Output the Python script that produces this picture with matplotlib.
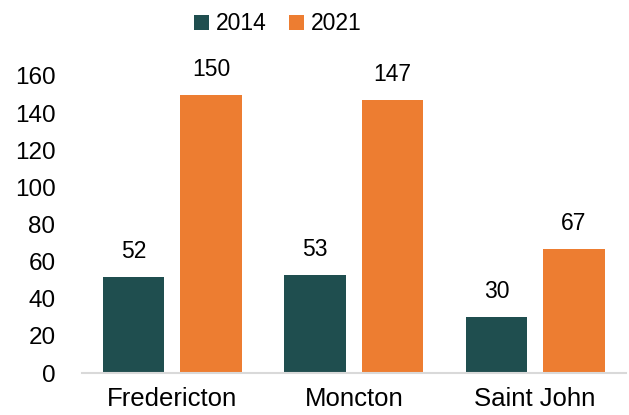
import numpy as np
import matplotlib.pyplot as plt

plt.rcParams['font.family'] = ['Liberation Sans', 'DejaVu Sans']

cities = ['Fredericton', 'Moncton', 'Saint John']
series_names = ['2014', '2021']
vals_2014 = [52, 53, 30]
vals_2021 = [150, 147, 67]
yticks = [0, 20, 40, 60, 80, 100, 120, 140, 160]

c2014 = '#1F4E4F'
c2021 = '#ED7D31'

fig = plt.figure(figsize=(6.29, 4.15), dpi=100)
ax = fig.add_axes([0.130, 0.101, 0.865, 0.716])

x = np.arange(len(cities))
w = 0.34
off = 0.214
b1 = ax.bar(x - off, vals_2014, w, color=c2014, label=series_names[0])
b2 = ax.bar(x + off, vals_2021, w, color=c2021, label=series_names[1])

for bars, vals in [(b1, vals_2014), (b2, vals_2021)]:
    for b, v in zip(bars, vals):
        ax.annotate(str(v), (b.get_x() + b.get_width() / 2, v),
                    xytext=(0, 10), textcoords='offset points',
                    ha='center', va='bottom', fontsize=16.5, clip_on=False)

ax.set_xlim(-0.5, 2.5)
ax.set_ylim(0, 160)
ax.set_yticks(yticks)
ax.set_xticks(x)
ax.set_xticklabels(cities)
ax.tick_params(axis='both', length=0)
ax.tick_params(axis='x', pad=10, labelsize=18.5)
ax.tick_params(axis='y', pad=19, labelsize=17.5)
for s in ['top', 'right', 'left']:
    ax.spines[s].set_visible(False)
ax.spines['bottom'].set_color('#D9D9D9')
ax.spines['bottom'].set_linewidth(1.5)

fig.legend(loc='upper center', bbox_to_anchor=(0.442, 1.02), ncol=2,
           frameon=False, fontsize=16.5, handlelength=0.65, handleheight=0.65,
           handletextpad=0.3, columnspacing=1.0)

fig.savefig('out.png', dpi=100)
